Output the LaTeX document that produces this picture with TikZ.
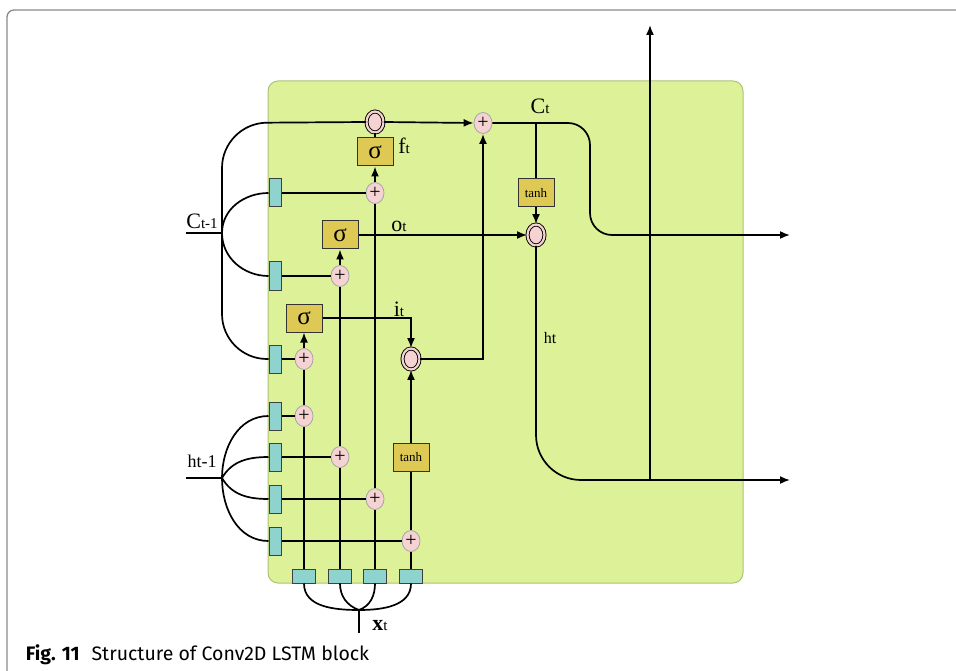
\documentclass[tikz,border=0pt]{standalone}
\usepackage{fontspec}
\setmainfont{Liberation Serif}
\newfontfamily\capfont{Fira Sans}
\usetikzlibrary{positioning,arrows.meta,shapes.geometric}
\definecolor{cPanel}{HTML}{DCF198}
\definecolor{cConv}{HTML}{8FD3CF}
\definecolor{cGate}{HTML}{DEC955}
\definecolor{cOp}{HTML}{F6D3D3}
\definecolor{cFrame}{HTML}{8A8A8A}
\newcommand{\lsub}[1]{{\fontsize{15}{15}\selectfont #1}}

\begin{document}
\begin{tikzpicture}[x=1pt,y=-1pt,line width=1.7pt,
      convv/.style={draw=black!75,fill=cConv,line width=1pt,minimum width=12pt,
                    minimum height=28pt,inner sep=0pt},
      convh/.style={convv,minimum width=23pt,minimum height=14pt},
      gate/.style={draw=black!80,fill=cGate,line width=1pt,minimum width=36pt,
                   minimum height=28pt,inner sep=0pt,font=\fontsize{25}{25}\selectfont},
      tbox/.style={gate,font=\fontsize{13}{13}\selectfont},
      addop/.style={ellipse,draw=black!35,fill=cOp,line width=0.8pt,minimum width=18pt,
                    minimum height=21pt,inner sep=0pt,font=\fontsize{20}{20}\selectfont},
      mulop/.style={ellipse,draw=black,fill=cOp,line width=0.9pt,double=cOp,
                    double distance=2.2pt,minimum width=17pt,minimum height=21pt,inner sep=0pt},
      arr/.style={-{Latex[length=10pt,width=8pt]}},
      lab/.style={font=\fontsize{22}{22}\selectfont,inner sep=0pt}]
    \useasboundingbox (0,0) rectangle (956,671);
    % frame and block
    \draw[cFrame,line width=1.3pt,rounded corners=7pt] (7,671) -- (7,10) -- (956,10);
    \draw[draw=black!20!cPanel,fill=cPanel,line width=1pt,rounded corners=10pt] (268,81) rectangle (743,583);
    % conv boxes, left side
    \node[convv] (bl1) at (275,193) {};
    \node[convv] (bl2) at (275,276) {};
    \node[convv] (bl3) at (275,359) {};
    \node[convv] (bl4) at (275,416) {};
    \node[convv] (bl5) at (275,457) {};
    \node[convv] (bl6) at (275,499) {};
    \node[convv] (bl7) at (275,541) {};
    % conv boxes, bottom
    \node[convh] (bb1) at (304,576) {};
    \node[convh] (bb2) at (340,576) {};
    \node[convh] (bb3) at (375,576) {};
    \node[convh] (bb4) at (411,576) {};
    % adders
    \node[addop] (p1) at (375,193) {+};
    \node[addop] (p2) at (340,276) {+};
    \node[addop] (p3) at (304,359) {+};
    \node[addop] (p4) at (304,416) {+};
    \node[addop] (p5) at (340,457) {+};
    \node[addop] (p6) at (375,499) {+};
    \node[addop] (p7) at (411,541) {+};
    \node[addop] (pc) at (483,123) {+};
    % gates
    \node[gate] (sf) at (375,152) {σ};
    \node[gate] (so) at (340,235) {σ};
    \node[gate] (si) at (304,318) {σ};
    \node[tbox] (th1) at (411,457) {tanh};
    \node[tbox] (th2) at (536,193) {tanh};
    % products
    \node[mulop] (mf) at (375,122) {};
    \node[mulop] (mi) at (411,359) {};
    \node[mulop] (mo) at (536,235) {};
    % free ends and junctions
    \coordinate (cin) at (186,233);
    \coordinate (cj) at (222,233);
    \coordinate (hin) at (186,478);
    \coordinate (hj) at (222,478);
    \coordinate (xj) at (359,610);
    \coordinate (xe) at (359,633);
    \coordinate (cb) at (536,123);
    \coordinate (cout) at (790,235);
    \coordinate (hout) at (790,480);
    \coordinate (hv) at (650,480);
    \coordinate (hup) at (650,25);
    % inputs
    \draw (cin) -- (cj);
    \draw[rounded corners=45pt] (bl3.west) -- (222,359) -- (222,123) -- (mf.west);
    \draw (cj) to[out=90,in=180] (bl1.west);
    \draw (cj) to[out=-90,in=180] (bl2.west);
    \draw (hin) -- (hj);
    \draw (hj) to[out=90,in=180] (bl4.west);
    \draw (hj) to[out=60,in=180] (bl5.west);
    \draw (hj) to[out=-60,in=180] (bl6.west);
    \draw (hj) to[out=-90,in=180] (bl7.west);
    \draw (bb1.south) to[out=-90,in=180] (xj);
    \draw (bb2.south) to[out=-90,in=160] (xj);
    \draw (bb3.south) to[out=-90,in=20] (xj);
    \draw (bb4.south) to[out=-90,in=0] (xj);
    \draw (xj) -- (xe);
    % rows into adders
    \draw (bl1.east) -- (p1.west); \draw (bl2.east) -- (p2.west);
    \draw (bl3.east) -- (p3.west); \draw (bl4.east) -- (p4.west);
    \draw (bl5.east) -- (p5.west); \draw (bl6.east) -- (p6.west);
    \draw (bl7.east) -- (p7.west);
    % columns up to gates
    \draw (bb1.north) -- (p4.south); \draw (p4.north) -- (p3.south); \draw[arr] (p3.north) -- (si.south);
    \draw (bb2.north) -- (p5.south); \draw (p5.north) -- (p2.south); \draw[arr] (p2.north) -- (so.south);
    \draw (bb3.north) -- (p6.south); \draw (p6.north) -- (p1.south); \draw[arr] (p1.north) -- (sf.south);
    \draw (bb4.north) -- (p7.south); \draw (p7.north) -- (th1.south); \draw[arr] (th1.north) -- (mi.south);
    % cell state and outputs
    \draw (sf.north) -- (mf.south);
    \draw[arr] (mf.east) -- (pc.west);
    \draw[arr] (si.east) -| (mi.north);
    \draw[arr] (mi.east) -| (pc.south);
    \draw[arr,rounded corners=22pt] (pc.east) -- (590,123) -- (590,235) -- (cout);
    \draw (cb) -- (th2.north);
    \draw[arr] (th2.south) -- (mo.north);
    \draw[arr] (so.east) -- (mo.west);
    \draw[arr,rounded corners=45pt] (mo.south) -- (536,480) -- (hout);
    \draw[arr] (hv) -- (hup);
    % labels
    \node[lab] (lct1) at (202,221) {C\lsub{t-1}};
    \node[lab,font=\fontsize{18}{18}\selectfont] (lht1) at (202,461) {ht-1};
    \node[lab] (lft) at (404,146) {f\lsub{t}};
    \node[lab] (lot) at (399,226) {o\lsub{t}};
    \node[lab] (lit) at (399,309) {i\lsub{t}};
    \node[lab] (lct) at (540,106) {C\lsub{t}};
    \node[lab,font=\fontsize{16}{16}\selectfont] (lht) at (550,338) {ht};
    \node[lab] (lxt) at (380,626) {\textbf{x}\lsub{t}};
    % caption
    \node[anchor=base west,inner sep=0pt,font=\capfont\fontsize{19.5}{22}\selectfont] (cap) at (25,660)
      {\textbf{Fig. 11}\hspace{12pt}Structure of Conv2D LSTM block};
  \end{tikzpicture}
\end{document}
